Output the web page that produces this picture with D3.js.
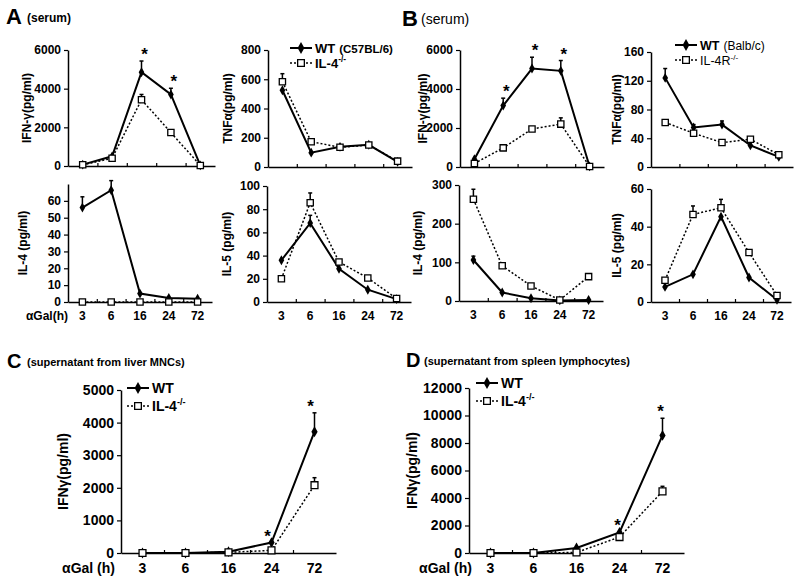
<!DOCTYPE html>
<html>
<head>
<meta charset="utf-8">
<script src="https://cdn.jsdelivr.net/npm/d3@7"></script>
<style>
body { margin: 0; background: #fff; }
svg { font-family: "Liberation Sans", Arial, sans-serif; }
.domain { stroke: #000; stroke-width: 1.5; }
.tick line { stroke: #000; stroke-width: 1.2; }
</style>
</head>
<body>
<script>
// time points (hours after aGalCer)
var hours = ["3", "6", "16", "24", "72"];

// A: serum, C57BL/6 WT vs IL-4-/-
var aIfnWT = [70, 500, 4850, 3700, 30];
var aIfnWTErr = [0, 0, 580, 320, 0];
var aIfnKO = [60, 400, 3430, 1730, 30];
var aIfnKOErr = [0, 0, 270, 0, 0];
var aIfnStars = [2, 3];

var aTnfWT = [525, 98, 138, 152, 35];
var aTnfWTErr = [0, 0, 0, 0, 0];
var aTnfKO = [583, 173, 135, 150, 40];
var aTnfKOErr = [55, 0, 0, 0, 12];

var aIl4WT = [56, 66.3, 5, 2.4, 2];
var aIl4WTErr = [6.4, 5.7, 0, 0, 0];
var aIl4KO = [0, 0, 0, 0, 0];
var aIl4KOErr = [0, 0, 0, 0, 0];

var aIl5WT = [36, 68, 28.7, 10.6, 2.5];
var aIl5WTErr = [0, 6.7, 0, 0, 0];
var aIl5KO = [20, 85.6, 34.5, 20.7, 3];
var aIl5KOErr = [0, 8.4, 0, 0, 0];

// B: serum, Balb/c WT vs IL-4R-/-
var bIfnWT = [400, 3150, 5050, 4930, 30];
var bIfnWTErr = [0, 380, 580, 530, 0];
var bIfnKO = [180, 980, 1950, 2200, 30];
var bIfnKOErr = [0, 0, 0, 320, 0];
var bIfnStars = [1, 2, 3];

var bTnfWT = [124, 55, 59, 30, 14];
var bTnfWTErr = [13, 4, 5, 0, 0];
var bTnfKO = [62, 47, 34, 38.7, 17];
var bTnfKOErr = [0, 0, 0, 0, 0];

var bIl4WT = [106, 22, 7, 1.5, 2.5];
var bIl4WTErr = [10, 0, 0, 0, 0];
var bIl4KO = [263, 91, 39, 2.6, 63];
var bIl4KOErr = [26, 0, 0, 0, 0];

var bIl5WT = [8, 14.7, 45.3, 13, 1.2];
var bIl5WTErr = [0, 0, 0, 0, 0];
var bIl5KO = [11.5, 46.5, 50, 26.3, 3.5];
var bIl5KOErr = [0, 4.5, 4.5, 0, 0];

// C: supernatant from liver MNCs
var cWT = [0, 0, 40, 320, 3720];
var cWTErr = [0, 0, 0, 0, 580];
var cKO = [0, 0, 20, 80, 2080];
var cKOErr = [0, 0, 0, 0, 230];
var cStars = [3, 4];

// D: supernatant from spleen lymphocytes
var dWT = [0, 0, 360, 1500, 8550];
var dWTErr = [0, 0, 0, 0, 1250];
var dKO = [0, 0, 40, 1160, 4480];
var dKOErr = [0, 0, 0, 170, 370];
var dStars = [3, 4];

var svg = d3.select("body").append("svg")
    .attr("width", 800)
    .attr("height", 583);

svg.append("rect").attr("width", 800).attr("height", 583).attr("fill", "#fff");

function drawPanel(p) {
    var x = d3.scaleBand().domain(hours).range([p.x0, p.x1]);
    var y = d3.scaleLinear().domain([0, p.max]).range([p.yb, p.yt]);
    var cx = function (i) { return x(hours[i]) + x.bandwidth() / 2; };
    var g = svg.append("g");

    // y axis
    var ya = g.append("g")
        .attr("transform", "translate(" + p.x0 + ",0)")
        .call(d3.axisLeft(y).tickValues(p.ticks).tickSize(4).tickSizeOuter(0)
            .tickPadding(3).tickFormat(d3.format("d")));
    ya.selectAll("text").attr("font-size", p.fs).attr("font-weight", "bold").attr("fill", "#000")
        .attr("font-family", "Liberation Sans, Arial, sans-serif");

    // x axis: labels at category centres, ticks between categories
    var xa = g.append("g")
        .attr("transform", "translate(0," + p.yb + ")")
        .call(d3.axisBottom(x).tickSize(0).tickSizeOuter(0).tickPadding(p.xpad)
            .tickFormat(function (d) { return p.showX ? d : ""; }));
    xa.selectAll("text").attr("font-size", p.fs).attr("font-weight", "bold").attr("fill", "#000")
        .attr("font-family", "Liberation Sans, Arial, sans-serif");
    var bx = d3.scaleLinear().domain([0, hours.length]).range([p.x0, p.x1]);
    var ta = g.append("g")
        .attr("transform", "translate(0," + p.yb + ")")
        .call(d3.axisBottom(bx).tickValues([1, 2, 3, 4]).tickSize(-3).tickFormat(""));
    ta.select(".domain").remove();

    if (p.xTitle) {
        g.append("text")
            .attr("x", p.xTitleX)
            .attr("y", p.yb + p.xpad)
            .attr("dy", "0.71em")
            .attr("text-anchor", "end")
            .attr("font-size", p.fs)
            .attr("font-weight", "bold")
            .text(p.xTitle);
    }

    // y label
    g.append("text")
        .attr("transform", "translate(" + (p.x0 - p.lo) + "," + ((p.yt + p.yb) / 2) + ") rotate(-90)")
        .attr("text-anchor", "middle")
        .attr("dy", "0.35em")
        .attr("font-size", p.lfs)
        .attr("font-weight", "bold")
        .text(p.label);

    var line = d3.line()
        .x(function (d, i) { return cx(i); })
        .y(function (d) { return y(d); });

    // error bars
    function errBars(vals, errs) {
        vals.forEach(function (v, i) {
            if (!errs[i]) return;
            g.append("line").attr("x1", cx(i)).attr("x2", cx(i))
                .attr("y1", y(v)).attr("y2", y(v + errs[i]))
                .attr("stroke", "#000").attr("stroke-width", 1.5);
            g.append("line").attr("x1", cx(i) - 2).attr("x2", cx(i) + 2)
                .attr("y1", y(v + errs[i])).attr("y2", y(v + errs[i]))
                .attr("stroke", "#000").attr("stroke-width", 1.5);
        });
    }
    errBars(p.wt, p.wtErr);
    errBars(p.ko, p.koErr);

    g.append("path").datum(p.wt).attr("d", line)
        .attr("fill", "none").attr("stroke", "#000").attr("stroke-width", 2);
    g.append("path").datum(p.ko).attr("d", line)
        .attr("fill", "none").attr("stroke", "#000").attr("stroke-width", 1.5)
        .attr("stroke-dasharray", "2,2");

    var dia = d3.symbol().type(d3.symbolDiamond).size(p.ms);
    var sq = d3.symbol().type(d3.symbolSquare).size(p.ms * 1.4);
    p.wt.forEach(function (v, i) {
        g.append("path").attr("d", dia)
            .attr("transform", "translate(" + cx(i) + "," + y(v) + ")")
            .attr("fill", "#000");
    });
    p.ko.forEach(function (v, i) {
        g.append("path").attr("d", sq)
            .attr("transform", "translate(" + cx(i) + "," + y(v) + ")")
            .attr("fill", "#fff").attr("stroke", "#000").attr("stroke-width", 1.3);
    });

    // significance stars
    (p.stars || []).forEach(function (i) {
        var top = y(p.wt[i] + p.wtErr[i]);
        g.append("text")
            .attr("x", cx(i) + p.sdx)
            .attr("y", top - 1)
            .attr("text-anchor", "middle")
            .attr("font-size", 17)
            .attr("font-weight", "bold")
            .text("*");
    });
}

function legendRow(x, y, solid, label, sup, extra, fs, bold) {
    var l = svg.append("line").attr("x1", x).attr("x2", x + 22).attr("y1", y).attr("y2", y)
        .attr("stroke", "#000").attr("stroke-width", solid ? 2 : 1.5);
    if (!solid) l.attr("stroke-dasharray", "2,2");
    if (solid) {
        svg.append("path").attr("d", d3.symbol().type(d3.symbolDiamond).size(40))
            .attr("transform", "translate(" + (x + 11) + "," + y + ")");
    } else {
        svg.append("path").attr("d", d3.symbol().type(d3.symbolSquare).size(45))
            .attr("transform", "translate(" + (x + 11) + "," + y + ")")
            .attr("fill", "#fff").attr("stroke", "#000").attr("stroke-width", 1.3);
    }
    var t = svg.append("text").attr("x", x + 25).attr("y", y + fs * 0.36)
        .attr("font-size", fs).attr("font-weight", bold ? "bold" : "normal").text(label);
    if (sup) {
        t.append("tspan").attr("dy", -fs * 0.4).attr("font-size", fs * 0.65).text(sup);
    }
    if (extra) {
        t.append("tspan").attr("dx", 4).attr("font-size", extra.fs)
            .attr("font-weight", extra.bold ? "bold" : "normal").text(extra.text);
    }
}

var small = { fs: 12, lfs: 12, ms: 28, xpad: 9 };
function mk(o) { return Object.assign({}, small, { sdx: 3, showX: false }, o); }

drawPanel(mk({ x0: 68, x1: 215, yb: 166, yt: 50, max: 6000, ticks: [0, 2000, 4000, 6000],
    label: "IFN-γ(pg/ml)", lo: 41, wt: aIfnWT, wtErr: aIfnWTErr, ko: aIfnKO, koErr: aIfnKOErr, stars: aIfnStars }));
drawPanel(mk({ x0: 268, x1: 412, yb: 167, yt: 50, max: 800, ticks: [0, 200, 400, 600, 800],
    label: "TNFα(pg/ml)", lo: 40, wt: aTnfWT, wtErr: aTnfWTErr, ko: aTnfKO, koErr: aTnfKOErr }));
drawPanel(mk({ x0: 460, x1: 604, yb: 167, yt: 50, max: 6000, ticks: [0, 2000, 4000, 6000],
    label: "IFN-γ(pg/ml)", lo: 37, wt: bIfnWT, wtErr: bIfnWTErr, ko: bIfnKO, koErr: bIfnKOErr, stars: bIfnStars }));
drawPanel(mk({ x0: 651, x1: 793, yb: 167, yt: 52, max: 160, ticks: [0, 40, 80, 120, 160],
    label: "TNFα(pg/ml)", lo: 34, wt: bTnfWT, wtErr: bTnfWTErr, ko: bTnfKO, koErr: bTnfKOErr }));

drawPanel(mk({ x0: 68, x1: 212, yb: 302, yt: 184, max: 70, ticks: [0, 10, 20, 30, 40, 50, 60],
    label: "IL-4 (pg/ml)", lo: 45, wt: aIl4WT, wtErr: aIl4WTErr, ko: aIl4KO, koErr: aIl4KOErr,
    showX: true, xTitle: "αGal(h)", xTitleX: 68 }));
drawPanel(mk({ x0: 267, x1: 411, yb: 302, yt: 186, max: 100, ticks: [0, 20, 40, 60, 80, 100],
    label: "IL-5 (pg/ml)", lo: 40, wt: aIl5WT, wtErr: aIl5WTErr, ko: aIl5KO, koErr: aIl5KOErr, showX: true }));
drawPanel(mk({ x0: 459, x1: 603, yb: 301, yt: 185, max: 300, ticks: [0, 100, 200, 300],
    label: "IL-4 (pg/ml)", lo: 41, wt: bIl4WT, wtErr: bIl4WTErr, ko: bIl4KO, koErr: bIl4KOErr, showX: true }));
drawPanel(mk({ x0: 651, x1: 791, yb: 302, yt: 189, max: 60, ticks: [0, 20, 40, 60],
    label: "IL-5 (pg/ml)", lo: 34, wt: bIl5WT, wtErr: bIl5WTErr, ko: bIl5KO, koErr: bIl5KOErr, showX: true }));

drawPanel({ x0: 121, x1: 336, yb: 553, yt: 390, max: 5000, ticks: [0, 1000, 2000, 3000, 4000, 5000],
    fs: 14, lfs: 14, ms: 34, xpad: 10, sdx: -4, showX: true, xTitle: "αGal (h)", xTitleX: 115,
    label: "IFNγ(pg/ml)", lo: 58, wt: cWT, wtErr: cWTErr, ko: cKO, koErr: cKOErr, stars: cStars });
drawPanel({ x0: 469, x1: 684, yb: 553, yt: 388, max: 12000, ticks: [0, 2000, 4000, 6000, 8000, 10000, 12000],
    fs: 14, lfs: 14, ms: 34, xpad: 10, sdx: -2, showX: true, xTitle: "αGal (h)", xTitleX: 472,
    label: "IFNγ(pg/ml)", lo: 57, wt: dWT, wtErr: dWTErr, ko: dKO, koErr: dKOErr, stars: dStars });

// legends
legendRow(290, 48, true, "WT", null, { text: "(C57BL/6)", fs: 11.5, bold: true }, 13, true);
legendRow(290, 63, false, "IL-4", "-/-", null, 13, true);
legendRow(675, 45, true, "WT", null, { text: "(Balb/c)", fs: 12, bold: false }, 12.5, true);
legendRow(675, 60, false, "IL-4R", "-/-", null, 12.5, false);
legendRow(127, 388, true, "WT", null, null, 14, true);
legendRow(127, 406, false, "IL-4", "-/-", null, 14, true);
legendRow(476, 383, true, "WT", null, null, 14, true);
legendRow(476, 401, false, "IL-4", "-/-", null, 14, true);

// panel letters and subtitles
function heading(x, y, letter, lsize, sub, ssize, sbold, sx) {
    svg.append("text").attr("x", x).attr("y", y).attr("font-size", lsize)
        .attr("font-weight", "bold").text(letter);
    svg.append("text").attr("x", sx).attr("y", y - 2).attr("font-size", ssize)
        .attr("font-weight", sbold ? "bold" : "normal").text(sub);
}
heading(6, 24, "A", 22, "(serum)", 12, true, 27);
heading(402, 26, "B", 22, "(serum)", 14, false, 421);
heading(7, 368, "C", 20, "(supernatant from liver MNCs)", 11, true, 27);
heading(406, 367, "D", 20, "(supernatant from spleen lymphocytes)", 11, true, 424);
</script>
</body>
</html>
